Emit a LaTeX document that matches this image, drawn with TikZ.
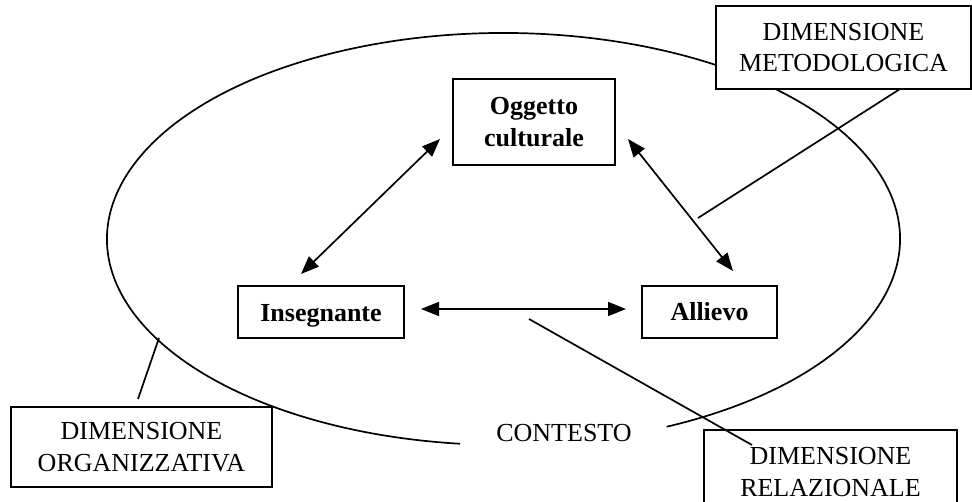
\documentclass[tikz,border=0pt]{standalone}
\usepackage{fontspec}
\setmainfont{Liberation Serif}
\usetikzlibrary{arrows.meta}
\begin{document}
\begin{tikzpicture}[x=1pt,y=-1pt,
  every node/.style={font=\fontsize{26}{31.5}\selectfont},
  box/.style={draw,line width=1.7pt,fill=white,inner sep=0pt,align=center},
  conn/.style={line width=1.7pt},
  arr/.style={line width=1.7pt,{Triangle[length=18pt,width=14pt]}-{Triangle[length=18pt,width=14pt]}}]
\useasboundingbox (0,0) rectangle (972,502);
% context ellipse (open at CONTESTO)
\coordinate (cen) at (503.5,239);
\draw[conn] ([shift={(cen)}] -65.7:396.5pt and 206pt)
  arc[start angle=-65.7, end angle=263.7, x radius=396.5pt, y radius=206pt];
\node (contesto) at (564,433) {CONTESTO};
% boxes
\node[box,minimum width=162pt,minimum height=86pt] (ogg) at (534,122) {\textbf{Oggetto}\\\textbf{culturale}};
\node[box,minimum width=166pt,minimum height=52pt,text height=22pt,text depth=3pt] (ins) at (321,312) {\textbf{Insegnante}};
\node[box,minimum width=135pt,minimum height=52pt,text height=20pt,text depth=3pt] (all) at (709.5,312) {\textbf{Allievo}};
\node[box,minimum width=255pt,minimum height=83pt] (met) at (843.5,47.5) {DIMENSIONE\\METODOLOGICA};
\node[box,minimum width=261pt,minimum height=80pt] (org) at (141.5,447) {DIMENSIONE\\ORGANIZZATIVA};
\node[box,minimum width=253pt,minimum height=84pt] (rel) at (830.5,472) {DIMENSIONE\\RELAZIONALE};
% arrow end points
\coordinate (a1) at (440,139);
\coordinate (a2) at (301,274);
\coordinate (b1) at (628,139);
\coordinate (b2) at (733,271);
\coordinate (c1) at (421,309);
\coordinate (c2) at (626,309);
\draw[arr] (a1) -- (a2);
\draw[arr] (b1) -- (b2);
\draw[arr] (c1) -- (c2);
% leader lines
\coordinate (m1) at (900,89);
\coordinate (m2) at (698,218);
\draw[conn] (m1) -- (m2);
\coordinate (o1) at (159,338);
\coordinate (o2) at (138,399);
\draw[conn] (o1) -- (o2);
\coordinate (r1) at (529,319);
\coordinate (r2) at (752,445);
\draw[conn] (r1) -- (r2);
\end{tikzpicture}
\end{document}
